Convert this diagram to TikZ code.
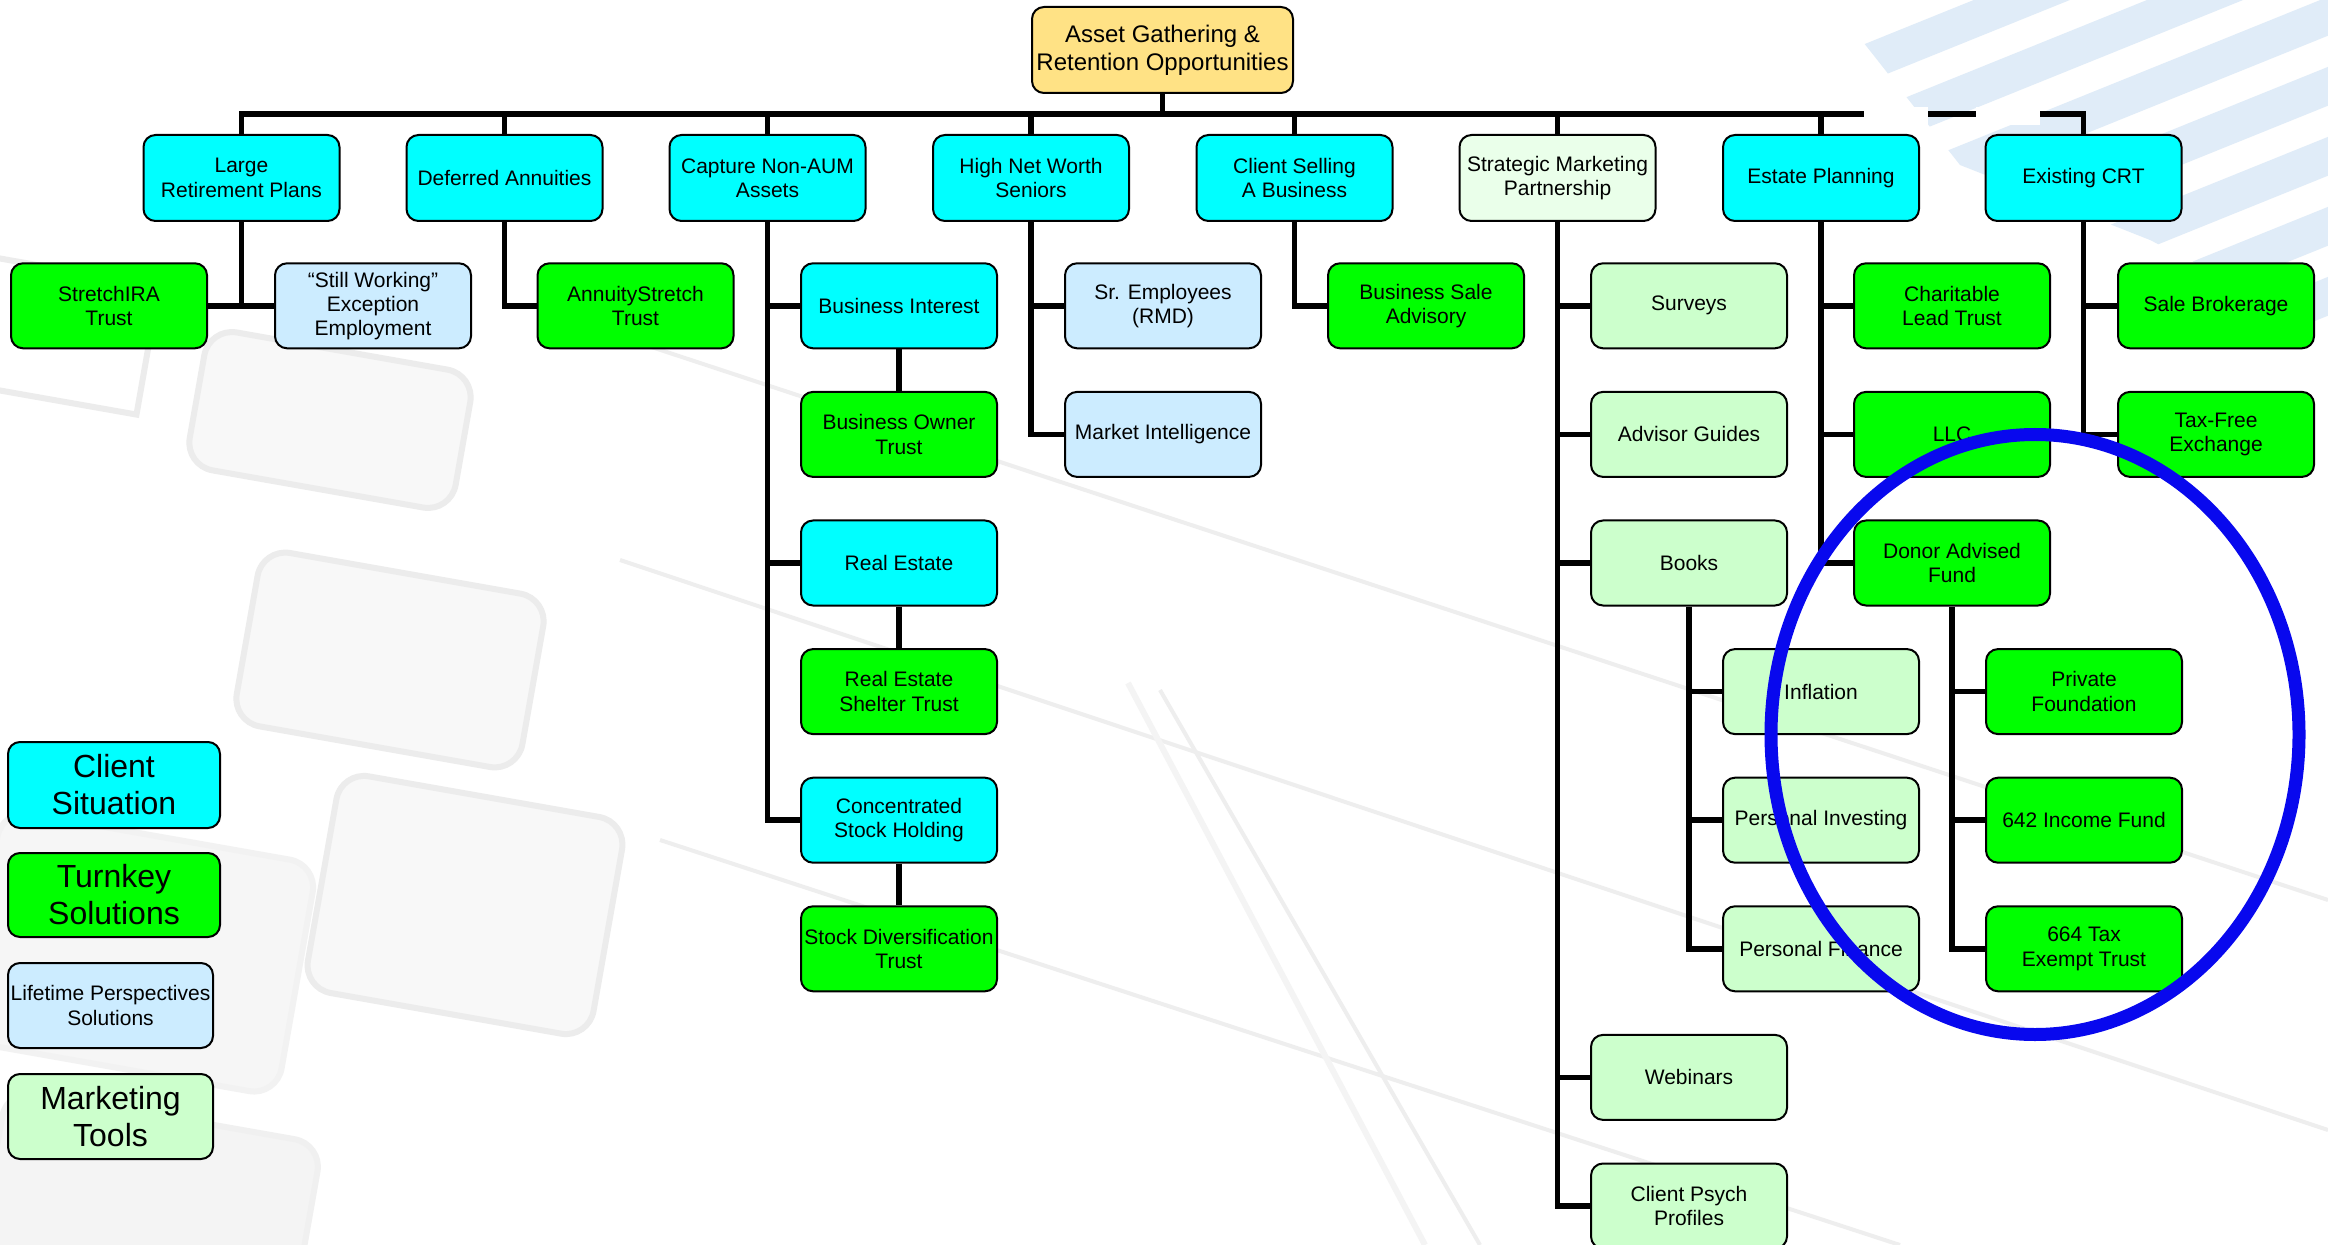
\documentclass[tikz,border=0pt]{standalone}
\usepackage{fontspec}
\setmainfont{Liberation Sans}
\pgfdeclarelayer{bgl}
\pgfdeclarelayer{cl}
\pgfsetlayers{bgl,cl,main}
\definecolor{cyanf}{RGB}{0,255,255}
\definecolor{greenf}{RGB}{0,255,0}
\definecolor{lbluef}{RGB}{204,236,255}
\definecolor{lgreenf}{RGB}{204,255,204}
\definecolor{pgreenf}{RGB}{234,255,234}
\definecolor{rootf}{RGB}{255,226,133}
\definecolor{ringblue}{RGB}{8,8,238}
\definecolor{flagblue}{RGB}{224,236,248}
\definecolor{keyfill}{RGB}{248,248,248}
\definecolor{keyline}{RGB}{236,236,236}
\definecolor{formline}{RGB}{238,238,238}
\begin{document}
\begin{tikzpicture}[x=0.5pt,y=-0.5pt,
  box/.style={draw=black, line width=1pt, rounded corners=6pt, minimum width=98pt,
    minimum height=42.5pt, inner sep=0pt, align=center, font=\fontsize{10.5}{12.2}\selectfont},
  sit/.style={box, fill=cyanf},
  turn/.style={box, fill=greenf},
  life/.style={box, fill=lbluef},
  mkt/.style={box, fill=lgreenf},
  legbig/.style={font=\fontsize{16}{18.5}\selectfont},
  conn/.style={draw=black, line width=2.75pt},
  keystyle/.style={fill=keyfill, draw=keyline, line width=3pt, rounded corners=14pt}
]
\useasboundingbox (0,0) rectangle (2328,1245);
\def\rA{305.8}\def\rB{434.4}\def\rC{563.0}\def\rD{691.6}
\def\rE{820.2}\def\rF{948.8}\def\rG{1077.4}\def\rH{1206.0}

% ---------------- nodes ----------------
\node[box, fill=rootf, minimum width=130.5pt, minimum height=43pt, font=\fontsize{12}{14}\selectfont]
  (root) at (1162.5,50) {Asset Gathering \&\\Retention Opportunities};

\node[sit, minimum height=43pt] (lrp) at (241.5,178) {Large\\Retirement Plans};
\node[sit, minimum height=43pt] (dfa) at (504.5,178) {Deferred Annuities};
\node[sit, minimum height=43pt] (cap) at (767.5,178) {Capture Non-AUM\\Assets};
\node[sit, minimum height=43pt] (hnw) at (1031,178) {High Net Worth\\Seniors};
\node[sit, minimum height=43pt] (csb) at (1294.5,178) {Client Selling\\A Business};
\node[box, fill=pgreenf, minimum height=43pt] (smp) at (1557.5,178) {Strategic Marketing\\Partnership};
\node[sit, minimum height=43pt] (est) at (1821,178) {Estate Planning};
\node[sit, minimum height=43pt] (crt) at (2083.5,178) {Existing CRT};

\node[turn] (stretch) at (109,\rA) {StretchIRA\\Trust};
\node[life, font=\fontsize{10.5}{12}\selectfont] (still) at (373,\rA) {“Still Working”\\Exception\\Employment};
\node[turn] (annuity) at (635.5,\rA) {AnnuityStretch\\Trust};

\node[sit] (busint) at (899,\rA) {Business Interest};
\node[turn] (busown) at (899,\rB) {Business Owner\\Trust};
\node[sit] (realest) at (899,\rC) {Real Estate};
\node[turn] (reshel) at (899,\rD) {Real Estate\\Shelter Trust};
\node[sit] (conc) at (899,\rE) {Concentrated\\Stock Holding};
\node[turn] (stockdiv) at (899,\rF) {Stock Diversification\\Trust};

\node[life] (sremp) at (1163,\rA) {Sr. Employees\\(RMD)};
\node[life] (mktint) at (1163,\rB) {Market Intelligence};

\node[turn] (bsale) at (1426,\rA) {Business Sale\\Advisory};

\node[mkt] (surveys) at (1689,\rA) {Surveys};
\node[mkt] (advg) at (1689,\rB) {Advisor Guides};
\node[mkt] (books) at (1689,\rC) {Books};
\node[mkt] (webin) at (1689,\rG) {Webinars};
\node[mkt] (psych) at (1689,\rH) {Client Psych\\Profiles};
\node[mkt] (infl) at (1821,\rD) {Inflation};
\node[mkt] (pinv) at (1821,\rE) {Personal Investing};
\node[mkt] (pfin) at (1821,\rF) {Personal Finance};

\node[turn] (clt) at (1952,\rA) {Charitable\\Lead Trust};
\node[turn] (llc) at (1952,\rB) {LLC};
\node[turn] (daf) at (1952,\rC) {Donor Advised\\Fund};
\node[turn] (pf) at (2084,\rD) {Private\\Foundation};
\node[turn] (inc) at (2084,\rE) {642 Income Fund};
\node[turn] (tax) at (2084,\rF) {664 Tax\\Exempt Trust};

\node[turn] (sbrok) at (2216,\rA) {Sale Brokerage};
\node[turn] (tfx) at (2216,\rB) {Tax-Free\\Exchange};

% legend
\node[sit, legbig, minimum width=106pt, minimum height=43pt] (leg1) at (114,785) {Client\\Situation};
\node[turn, legbig, minimum width=106pt, minimum height=42pt] (leg2) at (114,895) {Turnkey\\Solutions};
\node[life, minimum width=102.5pt] (leg3) at (110.5,1005.5) {Lifetime Perspectives\\Solutions};
\node[mkt, legbig, minimum width=102.5pt] (leg4) at (110.5,1116.5) {Marketing\\Tools};

% highlight ring
\draw[ringblue, line width=6.5pt] (2035,734.5) ellipse [x radius=132pt, y radius=150pt];

% ---------------- connectors ----------------
\begin{pgfonlayer}{cl}
\coordinate (bus) at (0,114);
\draw[conn] (lrp.north) -- (lrp.north |- bus) -- (crt.north |- bus) -- (crt.north);
\foreach \n in {dfa,cap,hnw,csb,smp,est} \draw[conn] (\n.north) -- (\n.north |- bus);
\draw[conn] (root.south) -- (root.south |- bus);
\fill[white] (1864,107) rectangle (1928,125);
\fill[white] (1976,107) rectangle (2040,125);

\draw[conn] (lrp.south) -- (lrp.south |- stretch.east);
\draw[conn] (stretch.east) -- (still.west);
\draw[conn] (dfa.south) |- (annuity.west);

\draw[conn] (cap.south) |- (conc.west);
\draw[conn] (cap.south |- busint.west) -- (busint.west);
\draw[conn] (cap.south |- realest.west) -- (realest.west);
\draw[conn] (busint.south) -- (busown.north);
\draw[conn] (realest.south) -- (reshel.north);
\draw[conn] (conc.south) -- (stockdiv.north);

\draw[conn] (hnw.south) |- (mktint.west);
\draw[conn] (hnw.south |- sremp.west) -- (sremp.west);
\draw[conn] (csb.south) |- (bsale.west);

\draw[conn] (smp.south) |- (psych.west);
\foreach \n in {surveys,advg,books,webin} \draw[conn] (smp.south |- \n.west) -- (\n.west);
\draw[conn] (books.south) |- (pfin.west);
\foreach \n in {infl,pinv} \draw[conn] (books.south |- \n.west) -- (\n.west);

\draw[conn] (est.south) |- (daf.west);
\foreach \n in {clt,llc} \draw[conn] (est.south |- \n.west) -- (\n.west);
\draw[conn] (daf.south) |- (tax.west);
\foreach \n in {pf,inc} \draw[conn] (daf.south |- \n.west) -- (\n.west);

\draw[conn] (crt.south) |- (tfx.west);
\draw[conn] (crt.south |- sbrok.west) -- (sbrok.west);
\end{pgfonlayer}

% ---------------- faint background ----------------
\begin{pgfonlayer}{bgl}
\fill[white] (0,0) rectangle (2328,1245);
\begin{scope}
  \clip (1830,0) -- (2328,0) -- (2328,330) -- (2150,240) -- (1960,165) -- cycle;
  \foreach \y in {130,200,...,760} \draw[flagblue, line width=18pt] (1700,\y) -- (2450,\y-303);
\end{scope}
% calculator keys
\draw[keystyle, rotate around={-10:(330,420)}] (195,350) rectangle (465,490);
\draw[keystyle, rotate around={-10:(390,660)}] (245,572) rectangle (535,748);
\draw[keystyle, rotate around={-10:(465,905)}] (320,795) rectangle (610,1015);
\draw[keystyle, fill=gray!7, draw=gray!10, rotate around={-10:(140,950)}] (-20,835) rectangle (300,1070);
\draw[keystyle, fill=gray!9, draw=gray!12, rotate around={-10:(150,1200)}] (-10,1115) rectangle (310,1300);
\draw[keyline, line width=3pt, rotate around={-10:(60,330)}] (-40,270) rectangle (150,400);
% form lines and pen
\draw[formline, line width=2pt] (600,330) -- (2328,900);
\draw[formline, line width=2pt] (620,560) -- (2328,1130);
\draw[formline, line width=2pt] (660,840) -- (1900,1245);
\draw[gray!9, line width=3pt] (1128,683) -- (1425,1245);
\draw[formline, line width=2pt] (1160,690) -- (1480,1245);
\end{pgfonlayer}
\end{tikzpicture}
\end{document}
